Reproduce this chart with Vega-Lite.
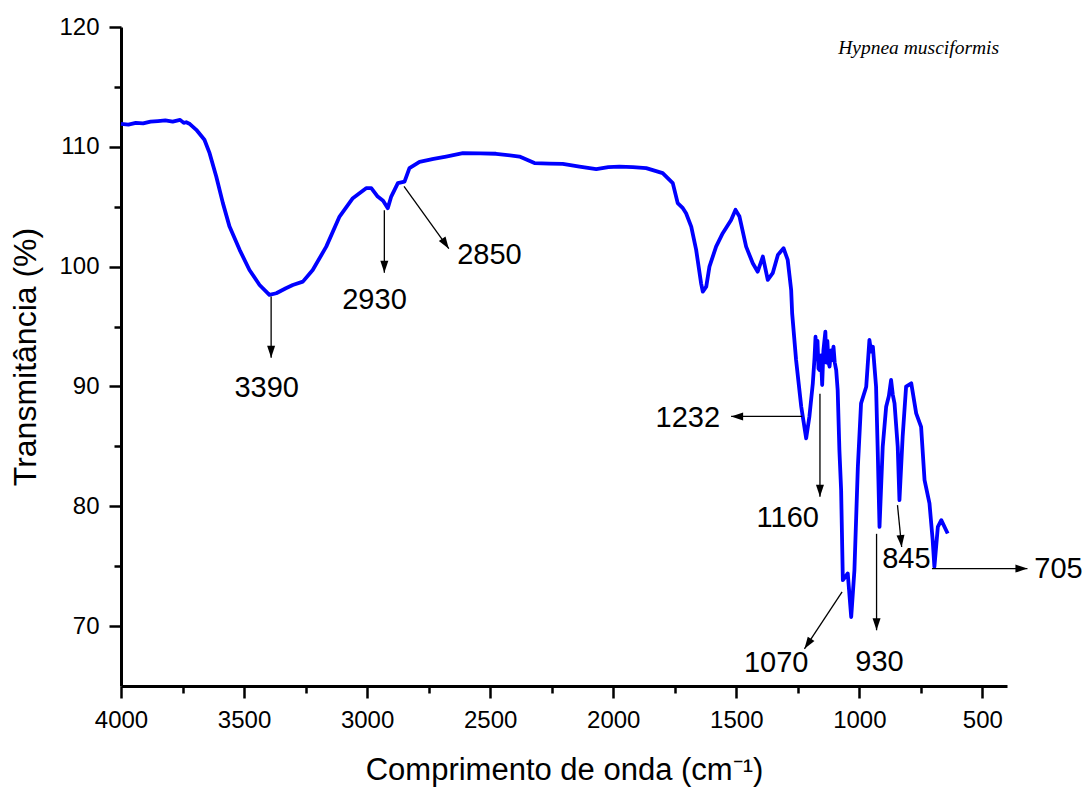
{
  "$schema": "https://vega.github.io/schema/vega-lite/v6.json",
  "width": 886,
  "height": 659,
  "autosize": {"type": "none"},
  "padding": {"left": 121, "top": 27, "right": 81, "bottom": 104},
  "background": "white",
  "config": {"view": {"stroke": null}, "font": "Liberation Sans"},
  "datasets": {
    "spectrum": [
      {"wn": 4000, "t": 111.92}, {"wn": 3970, "t": 111.85}, {"wn": 3940, "t": 112.0}, {"wn": 3910, "t": 111.95},
      {"wn": 3880, "t": 112.1}, {"wn": 3850, "t": 112.15}, {"wn": 3820, "t": 112.2}, {"wn": 3790, "t": 112.1},
      {"wn": 3760, "t": 112.25}, {"wn": 3745, "t": 112.0}, {"wn": 3735, "t": 112.05}, {"wn": 3720, "t": 111.9},
      {"wn": 3694, "t": 111.42}, {"wn": 3661, "t": 110.59}, {"wn": 3640, "t": 109.47}, {"wn": 3613, "t": 107.52},
      {"wn": 3586, "t": 105.3}, {"wn": 3559, "t": 103.34}, {"wn": 3518, "t": 101.4}, {"wn": 3478, "t": 99.72},
      {"wn": 3437, "t": 98.47}, {"wn": 3397, "t": 97.64}, {"wn": 3369, "t": 97.78}, {"wn": 3330, "t": 98.2},
      {"wn": 3302, "t": 98.47}, {"wn": 3261, "t": 98.75}, {"wn": 3221, "t": 99.72}, {"wn": 3166, "t": 101.67},
      {"wn": 3112, "t": 104.18}, {"wn": 3058, "t": 105.71}, {"wn": 3004, "t": 106.55}, {"wn": 2983, "t": 106.55},
      {"wn": 2957, "t": 105.85}, {"wn": 2935, "t": 105.5}, {"wn": 2916, "t": 104.88}, {"wn": 2902, "t": 105.85},
      {"wn": 2875, "t": 106.97}, {"wn": 2848, "t": 107.1}, {"wn": 2828, "t": 108.22}, {"wn": 2787, "t": 108.75},
      {"wn": 2730, "t": 109.0}, {"wn": 2679, "t": 109.19}, {"wn": 2611, "t": 109.47}, {"wn": 2540, "t": 109.45},
      {"wn": 2476, "t": 109.42}, {"wn": 2381, "t": 109.19}, {"wn": 2320, "t": 108.64}, {"wn": 2260, "t": 108.6},
      {"wn": 2205, "t": 108.58}, {"wn": 2137, "t": 108.35}, {"wn": 2069, "t": 108.14}, {"wn": 2020, "t": 108.3},
      {"wn": 1975, "t": 108.35}, {"wn": 1920, "t": 108.3}, {"wn": 1866, "t": 108.22}, {"wn": 1799, "t": 107.8},
      {"wn": 1758, "t": 106.97}, {"wn": 1738, "t": 105.3}, {"wn": 1717, "t": 104.88}, {"wn": 1704, "t": 104.46},
      {"wn": 1683, "t": 103.34}, {"wn": 1663, "t": 101.4}, {"wn": 1643, "t": 98.61}, {"wn": 1636, "t": 97.91},
      {"wn": 1622, "t": 98.33}, {"wn": 1609, "t": 100.0}, {"wn": 1582, "t": 101.67}, {"wn": 1555, "t": 102.79},
      {"wn": 1521, "t": 103.9}, {"wn": 1503, "t": 104.74}, {"wn": 1487, "t": 104.18}, {"wn": 1460, "t": 101.67},
      {"wn": 1433, "t": 100.28}, {"wn": 1413, "t": 99.58}, {"wn": 1392, "t": 100.84}, {"wn": 1372, "t": 98.89},
      {"wn": 1352, "t": 99.45}, {"wn": 1331, "t": 100.98}, {"wn": 1308, "t": 101.54}, {"wn": 1291, "t": 100.56},
      {"wn": 1277, "t": 98.05}, {"wn": 1273, "t": 96.11}, {"wn": 1257, "t": 92.21}, {"wn": 1236, "t": 88.31},
      {"wn": 1216, "t": 85.67}, {"wn": 1203, "t": 87.47}, {"wn": 1189, "t": 90.26}, {"wn": 1182, "t": 92.4},
      {"wn": 1178, "t": 94.15}, {"wn": 1174, "t": 92.3}, {"wn": 1170, "t": 93.8}, {"wn": 1166, "t": 91.5},
      {"wn": 1162, "t": 91.37}, {"wn": 1156, "t": 92.6}, {"wn": 1151, "t": 90.12}, {"wn": 1146, "t": 93.0},
      {"wn": 1138, "t": 94.57}, {"wn": 1134, "t": 92.0}, {"wn": 1130, "t": 93.8}, {"wn": 1125, "t": 92.0},
      {"wn": 1121, "t": 91.65}, {"wn": 1115, "t": 93.0}, {"wn": 1110, "t": 92.2}, {"wn": 1105, "t": 93.32},
      {"wn": 1100, "t": 92.0}, {"wn": 1094, "t": 91.37},
      {"wn": 1088, "t": 89.7}, {"wn": 1081, "t": 84.69}, {"wn": 1074, "t": 81.35}, {"wn": 1067, "t": 73.83},
      {"wn": 1047, "t": 74.39}, {"wn": 1033, "t": 70.76}, {"wn": 1020, "t": 74.66}, {"wn": 1006, "t": 83.29},
      {"wn": 993, "t": 88.59}, {"wn": 972, "t": 89.98}, {"wn": 959, "t": 93.88}, {"wn": 952, "t": 92.9},
      {"wn": 945, "t": 93.32},
      {"wn": 932, "t": 89.98}, {"wn": 925, "t": 84.41}, {"wn": 918, "t": 78.28}, {"wn": 905, "t": 84.96},
      {"wn": 891, "t": 88.31}, {"wn": 880, "t": 89.2}, {"wn": 871, "t": 90.54}, {"wn": 864, "t": 89.3},
      {"wn": 857, "t": 88.59}, {"wn": 844, "t": 84.96},
      {"wn": 837, "t": 80.51}, {"wn": 824, "t": 85.8}, {"wn": 810, "t": 89.98}, {"wn": 789, "t": 90.26},
      {"wn": 769, "t": 87.75}, {"wn": 749, "t": 86.63}, {"wn": 735, "t": 82.18}, {"wn": 715, "t": 80.24},
      {"wn": 702, "t": 77.17}, {"wn": 695, "t": 74.94}, {"wn": 681, "t": 78.28}, {"wn": 667, "t": 78.84},
      {"wn": 641, "t": 77.73}
    ],
    "peaks": [
      {"label": "3390", "wn": 3390, "t": 97.5, "wn2": 3390, "t2": 92.4, "lwn": 3408, "lt": 89.9},
      {"label": "2930", "wn": 2930, "t": 104.7, "wn2": 2930, "t2": 99.5, "lwn": 2970, "lt": 97.2},
      {"label": "2850", "wn": 2850, "t": 106.7, "wn2": 2668, "t2": 101.5, "lwn": 2503, "lt": 101.0},
      {"label": "1232", "wn": 1232, "t": 87.5, "wn2": 1521, "t2": 87.5, "lwn": 1697, "lt": 87.4},
      {"label": "1160", "wn": 1160, "t": 89.4, "wn2": 1160, "t2": 80.8, "lwn": 1291, "lt": 79.0},
      {"label": "1070", "wn": 1070, "t": 72.85, "wn2": 1223, "t2": 68.1, "lwn": 1338, "lt": 66.9},
      {"label": "930", "wn": 930, "t": 77.7, "wn2": 930, "t2": 69.65, "lwn": 918, "lt": 67.0},
      {"label": "845", "wn": 845, "t": 80.1, "wn2": 828, "t2": 76.6, "lwn": 809, "lt": 75.6},
      {"label": "705", "wn": 705, "t": 74.8, "wn2": 317, "t2": 74.8, "lwn": 191, "lt": 74.8}
    ],
    "species": [
      {"name": "Hypnea  musciformis", "wn": 759, "t": 118.27}
    ]
  },
  "layer": [
    {
      "data": {"name": "spectrum"},
      "mark": {"type": "line", "color": "#0000FF", "strokeWidth": 3.8, "strokeJoin": "round"},
      "encoding": {
        "x": {
          "field": "wn",
          "type": "quantitative",
          "scale": {"domain": [400, 4000], "reverse": true, "nice": false, "zero": false},
          "axis": {
            "title": "Comprimento de onda (cm⁻¹)",
            "values": [4000, 3750, 3500, 3250, 3000, 2750, 2500, 2250, 2000, 1750, 1500, 1250, 1000, 750, 500],
            "format": "d",
            "labelExpr": "datum.value % 500 === 0 ? datum.label : ''",
            "tickSize": {"condition": {"test": "datum.value % 500 === 0", "value": 12}, "value": 7},
            "grid": false,
            "domainColor": "black",
            "domainWidth": 3,
            "tickColor": "black",
            "tickWidth": 2.5,
            "labelFont": "Liberation Sans",
            "labelFontSize": 24,
            "labelColor": "black",
            "labelPadding": 10,
            "labelFlush": false,
            "labelOverlap": false,
            "titleFont": "Liberation Sans",
            "titleFontSize": 31,
            "titleFontWeight": "normal",
            "titleColor": "black",
            "titlePadding": 23
          }
        },
        "y": {
          "field": "t",
          "type": "quantitative",
          "scale": {"domain": [65, 120], "nice": false, "zero": false},
          "axis": {
            "title": "Transmitância (%)",
            "values": [70, 75, 80, 85, 90, 95, 100, 105, 110, 115, 120],
            "labelExpr": "datum.value % 10 === 0 ? datum.label : ''",
            "tickSize": {"condition": {"test": "datum.value % 10 === 0", "value": 12}, "value": 7},
            "grid": false,
            "domainColor": "black",
            "domainWidth": 3,
            "tickColor": "black",
            "tickWidth": 2.5,
            "labelFont": "Liberation Sans",
            "labelFontSize": 24,
            "labelColor": "black",
            "labelPadding": 10,
            "labelFlush": false,
            "labelOverlap": false,
            "titleFont": "Liberation Sans",
            "titleFontSize": 32,
            "titleFontWeight": "normal",
            "titleColor": "black",
            "titlePadding": 16
          }
        }
      }
    },
    {
      "data": {"name": "peaks"},
      "mark": {"type": "rule", "color": "black", "strokeWidth": 1.3, "clip": false},
      "encoding": {
        "x": {"field": "wn", "type": "quantitative"},
        "y": {"field": "t", "type": "quantitative"},
        "x2": {"field": "wn2"},
        "y2": {"field": "t2"}
      }
    },
    {
      "data": {"name": "peaks"},
      "transform": [{"filter": {"field": "label", "oneOf": ["3390", "2930", "1160", "930"]}}],
      "mark": {"type": "point", "shape": "M0,0L-0.8,-2.4L0.8,-2.4Z", "size": 100, "filled": true, "color": "black", "opacity": 1, "strokeWidth": 0, "clip": false},
      "encoding": {"x": {"field": "wn2", "type": "quantitative"}, "y": {"field": "t2", "type": "quantitative"}}
    },
    {
      "data": {"name": "peaks"},
      "transform": [{"filter": {"field": "label", "equal": "845"}}],
      "mark": {"type": "point", "shape": "M0,0L-0.8,-2.4L0.8,-2.4Z", "size": 100, "angle": 354.5, "filled": true, "color": "black", "opacity": 1, "strokeWidth": 0, "clip": false},
      "encoding": {"x": {"field": "wn2", "type": "quantitative"}, "y": {"field": "t2", "type": "quantitative"}}
    },
    {
      "data": {"name": "peaks"},
      "transform": [{"filter": {"field": "label", "equal": "2850"}}],
      "mark": {"type": "point", "shape": "M0,0L-0.8,-2.4L0.8,-2.4Z", "size": 100, "angle": 326.4, "filled": true, "color": "black", "opacity": 1, "strokeWidth": 0, "clip": false},
      "encoding": {"x": {"field": "wn2", "type": "quantitative"}, "y": {"field": "t2", "type": "quantitative"}}
    },
    {
      "data": {"name": "peaks"},
      "transform": [{"filter": {"field": "label", "equal": "1070"}}],
      "mark": {"type": "point", "shape": "M0,0L-0.8,-2.4L0.8,-2.4Z", "size": 100, "angle": 33.7, "filled": true, "color": "black", "opacity": 1, "strokeWidth": 0, "clip": false},
      "encoding": {"x": {"field": "wn2", "type": "quantitative"}, "y": {"field": "t2", "type": "quantitative"}}
    },
    {
      "data": {"name": "peaks"},
      "transform": [{"filter": {"field": "label", "equal": "1232"}}],
      "mark": {"type": "point", "shape": "M0,0L-0.8,-2.4L0.8,-2.4Z", "size": 100, "angle": 90, "filled": true, "color": "black", "opacity": 1, "strokeWidth": 0, "clip": false},
      "encoding": {"x": {"field": "wn2", "type": "quantitative"}, "y": {"field": "t2", "type": "quantitative"}}
    },
    {
      "data": {"name": "peaks"},
      "transform": [{"filter": {"field": "label", "equal": "705"}}],
      "mark": {"type": "point", "shape": "M0,0L-0.8,-2.4L0.8,-2.4Z", "size": 100, "angle": 270, "filled": true, "color": "black", "opacity": 1, "strokeWidth": 0, "clip": false},
      "encoding": {"x": {"field": "wn2", "type": "quantitative"}, "y": {"field": "t2", "type": "quantitative"}}
    },
    {
      "data": {"name": "peaks"},
      "mark": {"type": "text", "font": "Liberation Sans", "fontSize": 29, "color": "black", "align": "center", "baseline": "middle", "clip": false},
      "encoding": {
        "x": {"field": "lwn", "type": "quantitative"},
        "y": {"field": "lt", "type": "quantitative"},
        "text": {"field": "label"}
      }
    },
    {
      "data": {"name": "species"},
      "mark": {"type": "text", "font": "Liberation Serif", "fontStyle": "italic", "fontSize": 19.5, "color": "black", "align": "center", "baseline": "middle"},
      "encoding": {
        "x": {"field": "wn", "type": "quantitative"},
        "y": {"field": "t", "type": "quantitative"},
        "text": {"field": "name"}
      }
    }
  ]
}
